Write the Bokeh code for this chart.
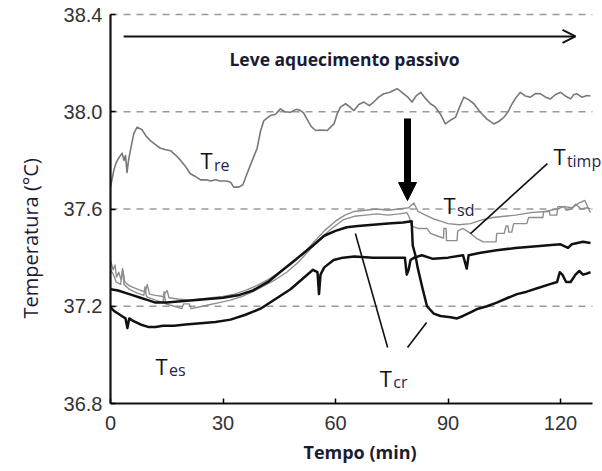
import math
from bokeh.plotting import figure
from bokeh.models import (Range1d, FixedTicker, NumeralTickFormatter, Label, Title,
                          Arrow, NormalHead, OpenHead)
from bokeh.embed import file_html
from bokeh.resources import INLINE

# ---------------- data (time in min, temperature in degC) ----------------
X_TICKS = [0, 30, 60, 90, 120]
Y_TICKS = [36.8, 37.2, 37.6, 38.0, 38.4]
GRID_Y = [37.2, 37.6, 38.0, 38.4]

T_RE = [(0, 37.69), (0.9, 37.76), (1.5, 37.79), (2.2, 37.81), (3.1, 37.83), (3.6, 37.80),
        (4.0, 37.82), (4.4, 37.75), (4.8, 37.80), (5.3, 37.84), (6.2, 37.91), (7.1, 37.937),
        (8.4, 37.926), (9.5, 37.90), (10.7, 37.88), (12, 37.865), (13.3, 37.85), (14.5, 37.845),
        (16, 37.84), (17.5, 37.82), (18.7, 37.80), (20, 37.775), (21.3, 37.745), (22.5, 37.735),
        (24, 37.72), (25.5, 37.72), (26.7, 37.715), (28, 37.72), (29.3, 37.715), (31, 37.715),
        (32, 37.71), (32.9, 37.69), (34.2, 37.69), (35.3, 37.70), (36.4, 37.745), (37.8, 37.80),
        (39.1, 37.85), (40.0, 37.92), (40.9, 37.964), (42.7, 37.985), (44, 37.99), (45.3, 38.012),
        (46.5, 38.0), (48, 37.998), (49.5, 38.01), (50.7, 38.005), (51.5, 37.995), (52.4, 37.97),
        (53.5, 37.94), (54.7, 37.923), (56, 37.925), (57.8, 37.923), (58.7, 37.937), (59.6, 37.95),
        (60.4, 37.99), (61.3, 38.019), (62.7, 38.033), (63.8, 38.02), (64.9, 38.005), (66.2, 38.03),
        (67.6, 38.04), (69, 38.025), (70.2, 38.04), (71.5, 38.06), (72.9, 38.074), (74.5, 38.08),
        (76.4, 38.095), (77.3, 38.085), (78.2, 38.074), (79.3, 38.06), (80.4, 38.04), (81.5, 38.065),
        (82.7, 38.08), (84, 38.055), (85.3, 38.033), (86.6, 38.02), (88, 37.99), (89.3, 37.95),
        (90.6, 37.965), (92, 37.977), (93.1, 38.02), (94.2, 38.06), (95.5, 38.05), (96.9, 38.033),
        (98.5, 38.0), (100.4, 37.97), (102.2, 37.95), (103.5, 37.96), (104.9, 37.977), (106, 38.0),
        (107.1, 38.033), (108.2, 38.06), (109.3, 38.08), (110.6, 38.065), (112, 38.06), (113.3, 38.075),
        (114.7, 38.074), (116, 38.06), (117.3, 38.053), (118.6, 38.07), (120, 38.08), (121.3, 38.065),
        (122.7, 38.053), (123.5, 38.07), (124.4, 38.074), (125.7, 38.06), (127.1, 38.067), (128, 38.065)]

T_SD = [(0, 37.39), (0.7, 37.35), (1.2, 37.37), (1.6, 37.32), (2.2, 37.34), (2.8, 37.31),
        (3.3, 37.35), (3.8, 37.30), (5, 37.285), (6.5, 37.275), (8, 37.265), (9.3, 37.26),
        (9.8, 37.29), (10.4, 37.25), (12, 37.245), (14, 37.24), (15.1, 37.265), (15.6, 37.235),
        (18, 37.23), (21, 37.225), (24, 37.23), (27, 37.235), (30, 37.24), (33, 37.25),
        (36, 37.265), (39, 37.285), (42, 37.31), (45, 37.34), (48, 37.37), (51, 37.41),
        (54, 37.46), (57, 37.51), (60, 37.55), (62.5, 37.575), (65, 37.59), (68, 37.595),
        (71, 37.60), (74, 37.595), (77, 37.60), (79.5, 37.605), (80.9, 37.625), (82, 37.59),
        (84, 37.575), (86, 37.56), (88, 37.55), (90, 37.54), (93, 37.535), (96, 37.54),
        (99, 37.555), (102, 37.565), (105, 37.57), (108, 37.575), (112, 37.585), (116, 37.59),
        (119, 37.60), (121, 37.61), (123, 37.605), (125, 37.625), (126.5, 37.635), (127.5, 37.60),
        (128, 37.585)]

T_TIMP = [(0, 37.35), (0.8, 37.33), (1.5, 37.30), (2.7, 37.29), (3.2, 37.355), (3.6, 37.29),
          (5, 37.27), (7, 37.255), (8.9, 37.245), (9.2, 37.28), (9.6, 37.24), (12, 37.225),
          (14, 37.215), (14.3, 37.26), (14.7, 37.21), (17, 37.20), (19, 37.19), (19.5, 37.21),
          (21, 37.21), (21.5, 37.19), (23, 37.195), (26, 37.205), (29, 37.215), (32, 37.225),
          (35, 37.24), (38, 37.26), (41, 37.285), (44, 37.31), (47, 37.34), (50, 37.38),
          (53, 37.43), (56, 37.48), (59, 37.52), (62, 37.555), (65, 37.57), (68, 37.575),
          (71, 37.58), (74, 37.575), (77, 37.58), (79, 37.585), (79.6, 37.57), (80.3, 37.53),
          (82, 37.52), (84.4, 37.52), (85.3, 37.50), (87, 37.49), (88.8, 37.48), (88.9, 37.52),
          (89.5, 37.52), (89.6, 37.47), (92.4, 37.47), (92.6, 37.51), (94, 37.52), (95, 37.51),
          (96, 37.50), (97.7, 37.478), (99.4, 37.465), (102.8, 37.465), (103, 37.50), (105, 37.50),
          (105.5, 37.53), (106, 37.53), (106.2, 37.505), (107, 37.505), (107.5, 37.54), (111, 37.54),
          (111.5, 37.565), (115.3, 37.565), (115.5, 37.59), (117, 37.59), (117.2, 37.575), (119, 37.575),
          (119.3, 37.61), (121, 37.61), (121.5, 37.595), (123, 37.60), (124, 37.62), (125.5, 37.60),
          (127, 37.605), (128, 37.60)]

T_CR = [(0, 37.27), (2, 37.265), (5, 37.25), (8, 37.235), (10, 37.225), (12, 37.215),
        (15, 37.215), (18, 37.22), (22, 37.225), (26, 37.23), (30, 37.235), (34, 37.245),
        (38, 37.265), (42, 37.30), (46, 37.35), (50, 37.40), (54, 37.45), (57, 37.49),
        (60, 37.51), (63, 37.525), (66, 37.53), (70, 37.535), (74, 37.54), (78, 37.545),
        (80.3, 37.55), (80.6, 37.45), (81.3, 37.41), (81.9, 37.36), (83.1, 37.28), (84.4, 37.20),
        (86.2, 37.17), (88, 37.16), (90.7, 37.155), (92.4, 37.15), (94, 37.16), (96, 37.175),
        (98, 37.19), (100.4, 37.20), (103, 37.215), (106, 37.235), (108.4, 37.25), (111, 37.26),
        (114, 37.275), (117, 37.29), (119.1, 37.30), (119.8, 37.34), (120.5, 37.33), (121.5, 37.30),
        (122.7, 37.30), (124, 37.33), (125, 37.345), (126, 37.33), (127.1, 37.335), (128, 37.34)]

T_ES = [(0, 37.195), (1, 37.18), (2, 37.17), (3, 37.16), (4, 37.15), (4.5, 37.11),
        (5, 37.15), (6, 37.14), (8, 37.125), (10, 37.115), (12, 37.115), (14, 37.12),
        (17, 37.12), (20, 37.125), (24, 37.13), (28, 37.135), (32, 37.145), (36, 37.165),
        (40, 37.19), (44, 37.23), (48, 37.27), (51, 37.31), (54, 37.35), (55.2, 37.34),
        (55.6, 37.25), (56, 37.33), (57, 37.36), (59.5, 37.39), (62, 37.40), (65, 37.405),
        (70, 37.40), (75, 37.40), (78.5, 37.40), (79, 37.33), (79.5, 37.35), (80, 37.39),
        (81, 37.40), (83, 37.41), (86, 37.395), (90, 37.40), (94, 37.41), (95, 37.355),
        (95.5, 37.41), (98.7, 37.42), (103, 37.43), (108, 37.44), (112, 37.445), (116, 37.45),
        (120, 37.455), (122, 37.44), (123, 37.455), (126, 37.465), (128, 37.46)]

X_AXIS_END = 128.5

# ---------------- figure ----------------
# frame spans to the right edge and slightly above 38.4; axis lines limited with bounds
p = figure(width=602, height=470, output_backend="svg", toolbar_location=None,
           x_range=Range1d(0, 131.2), y_range=Range1d(36.8, 38.4495),
           min_border_left=110, min_border_right=0, min_border_top=2, min_border_bottom=67)
p.outline_line_color = None
p.xgrid.visible = False
p.ygrid.visible = False

for gy in GRID_Y:
    p.line([0, X_AXIS_END], [gy, gy], line_color="#9a9a9a", line_width=1.5, line_dash="7 6")

def series(pairs):
    return [a for a, b in pairs], [b for a, b in pairs]

for data, col, w in [(T_RE, "#787878", 1.6), (T_SD, "#8e8e8e", 1.4), (T_TIMP, "#8e8e8e", 1.4),
                     (T_ES, "#111111", 2.5), (T_CR, "#111111", 2.5)]:
    xs, ys = series(data)
    p.line(xs, ys, line_color=col, line_width=w, line_join="round")

# axes
for ax in (p.xaxis[0], p.yaxis[0]):
    ax.axis_line_width = 2.2
    ax.axis_line_color = "#111111"
    ax.major_tick_in = 5
    ax.major_tick_out = 0
    ax.major_tick_line_width = 1.5
    ax.minor_tick_line_color = None
    ax.major_label_text_font = "Liberation Sans"
    ax.major_label_text_font_size = "20px"
    ax.major_label_text_color = "#333333"
p.xaxis.ticker = FixedTicker(ticks=X_TICKS)
p.yaxis.ticker = FixedTicker(ticks=Y_TICKS)
p.xaxis.bounds = (0, X_AXIS_END)
p.yaxis.bounds = (36.8, 38.4)
p.yaxis.formatter = NumeralTickFormatter(format="0.0")
p.xaxis.major_label_standoff = 12
p.yaxis.major_label_standoff = 8

TITLE_COL = "#1b1b33"
p.add_layout(Title(text="Temperatura (°C)", align="left", offset=85, standoff=30,
                   vertical_align="top",
                   text_font="Open Sans", text_font_size="20px", text_font_style="normal",
                   text_color=TITLE_COL), "left")
p.add_layout(Title(text="Tempo (min)", align="left", offset=193, standoff=10,
                   text_font="Open Sans", text_font_size="18px", text_font_style="bold",
                   text_color=TITLE_COL), "below")

# annotations
p.add_layout(Label(x=62.4, y=38.219, text="Leve aquecimento passivo", text_font="Open Sans",
                   text_font_style="bold", text_font_size="17.5px", text_color=TITLE_COL,
                   text_align="center", text_baseline="middle"))
p.add_layout(Arrow(x_start=3.5, y_start=38.31, x_end=124.0, y_end=38.31, line_width=2,
                   line_color="#111111",
                   end=OpenHead(size=13, line_width=2, line_color="#111111")))
p.add_layout(Arrow(x_start=79.2, y_start=37.972, x_end=79.2, y_end=37.635, line_width=7,
                   line_color="#000000",
                   end=NormalHead(size=18, fill_color="#000000", line_color="#000000")))

LABELS = [("T", "re", 24.0, 37.80), ("T", "sd", 88.8, 37.616), ("T", "timp", 118.1, 37.817),
          ("T", "es", 12.0, 36.954), ("T", "cr", 71.8, 36.906)]
for big, sub, lx, ly in LABELS:
    p.add_layout(Label(x=lx, y=ly, text=big, text_font="Open Sans", text_font_size="22px",
                       text_color="#111111", text_align="left", text_baseline="alphabetic"))
    p.add_layout(Label(x=lx + 3.6, y=ly - 0.018, text=sub, text_font="Open Sans",
                       text_font_size="16px", text_color="#1f2454", text_align="left",
                       text_baseline="alphabetic"))

LEADERS_X0 = [116.5, 65.3, 79.2]
LEADERS_Y0 = [37.787, 37.499, 37.030]
LEADERS_X1 = [96.0, 73.9, 84.3]
LEADERS_Y1 = [37.499, 37.030, 37.133]
p.segment(LEADERS_X0, LEADERS_Y0, LEADERS_X1, LEADERS_Y1, line_color="#111111", line_width=1.6)

open("out.html", "w").write(file_html(p, INLINE))
